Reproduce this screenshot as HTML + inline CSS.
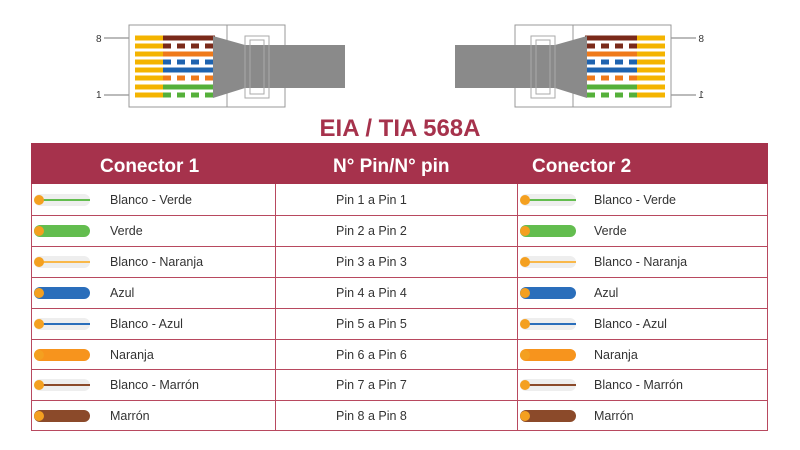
<!DOCTYPE html>
<html><head><meta charset="utf-8"><style>
body{margin:0;width:800px;height:450px;background:#fff;font-family:"Liberation Sans",Arial,sans-serif;position:relative;overflow:hidden}
.t{position:absolute;left:0;width:800px;top:115px;text-align:center;font-weight:bold;font-size:24px;color:#a6324c}
.hd{position:absolute;left:31px;top:143px;width:737px;height:41px;background:#a6324c}
.h{position:absolute;top:156px;color:#fff;font-weight:bold;font-size:19px;white-space:nowrap}
.box{position:absolute;left:31px;top:184px;width:735px;height:246px;border:1px solid #b8495f;border-top:none}
.hl{position:absolute;left:31px;width:737px;height:1px;background:#b8495f}
.vl{position:absolute;top:184px;width:1px;height:247px;background:#b8495f}
.x{position:absolute;font-size:12.5px;color:#333;white-space:nowrap}
.ic{position:absolute}
</style></head><body>
<svg width="800" height="112" style="position:absolute;left:0;top:0">
<defs>
<g id="c">
<text x="96" y="42" font-size="10" fill="#333" font-family="Liberation Sans">8</text>
<line x1="104" y1="38" x2="130" y2="38" stroke="#777"/>
<text x="96" y="98" font-size="10" fill="#333" font-family="Liberation Sans">1</text>
<line x1="104" y1="95" x2="130" y2="95" stroke="#777"/>
<rect x="129" y="25" width="156" height="82" fill="#fff" stroke="#999"/>
<line x1="227" y1="25" x2="227" y2="107" stroke="#999"/>
<g stroke-width="5">
<line x1="135" x2="163" y1="38" y2="38" stroke="#f4b400"/><line x1="163" x2="215" y1="38" y2="38" stroke="#7a2a1a"/>
<line x1="135" x2="163" y1="46" y2="46" stroke="#f4b400"/><line x1="163" x2="215" y1="46" y2="46" stroke="#7a2a1a" stroke-dasharray="8 6"/>
<line x1="135" x2="163" y1="54" y2="54" stroke="#f4b400"/><line x1="163" x2="215" y1="54" y2="54" stroke="#ef7a1a"/>
<line x1="135" x2="163" y1="62" y2="62" stroke="#f4b400"/><line x1="163" x2="215" y1="62" y2="62" stroke="#1e63b0" stroke-dasharray="8 6"/>
<line x1="135" x2="163" y1="70" y2="70" stroke="#f4b400"/><line x1="163" x2="215" y1="70" y2="70" stroke="#1e63b0"/>
<line x1="135" x2="163" y1="78" y2="78" stroke="#f4b400"/><line x1="163" x2="215" y1="78" y2="78" stroke="#ef7a1a" stroke-dasharray="8 6"/>
<line x1="135" x2="163" y1="87" y2="87" stroke="#f4b400"/><line x1="163" x2="215" y1="87" y2="87" stroke="#55b03a"/>
<line x1="135" x2="163" y1="95" y2="95" stroke="#f4b400"/><line x1="163" x2="215" y1="95" y2="95" stroke="#55b03a" stroke-dasharray="8 6"/>
</g>
<path d="M213 36 L245 45 L345 45 L345 88 L245 88 L213 98 Z" fill="#8a8a8a"/>
<rect x="245" y="36" width="24" height="62" fill="none" stroke="#aaa"/>
<rect x="250" y="40" width="14" height="54" fill="none" stroke="#aaa"/>
</g>
</defs>
<use href="#c"/>
<use href="#c" transform="translate(800,0) scale(-1,1)"/>
</svg>
<div class="t">EIA / TIA 568A</div>
<div class="hd"></div>
<div class="h" style="left:100px">Conector 1</div>
<div class="h" style="left:333px">N° Pin/N° pin</div>
<div class="h" style="left:532px">Conector 2</div>
<div class="box"></div>
<div class="vl" style="left:275px"></div>
<div class="vl" style="left:517px"></div>
<div id="rows"></div>
<script>
var d=[["Blanco - Verde","#63bd4f",0],["Verde","#63bd4f",1],["Blanco - Naranja","#f9b84a",0],["Azul","#2a6ebb",1],["Blanco - Azul","#2a6ebb",0],["Naranja","#f7941d",1],["Blanco - Marrón","#8b4a2a",0],["Marrón","#8b4a2a",1]];
function ic(c,s,x,y){return '<svg class="ic" style="left:'+x+'px;top:'+y+'px" width="60" height="14"><rect x="3" y="1" width="56" height="12" rx="6" fill="'+(s?c:'#eee')+'"/>'+(s?'':'<line x1="10" y1="7" x2="59" y2="7" stroke="'+c+'" stroke-width="2"/>')+'<circle cx="8" cy="7" r="5" fill="#f4a020"/></svg>';}
var h='';
d.forEach(function(r,i){var y=184+i*30.9;
if(i>0)h+='<div class="hl" style="top:'+Math.round(y)+'px"></div>';
var cy=Math.round(y+16);
h+=ic(r[1],r[2],31,cy-7)+ic(r[1],r[2],517,cy-7);
h+='<div class="x" style="left:110px;top:'+(cy-7)+'px">'+r[0]+'</div>';
h+='<div class="x" style="left:336px;top:'+(cy-7)+'px">Pin '+(i+1)+' a Pin '+(i+1)+'</div>';
h+='<div class="x" style="left:594px;top:'+(cy-7)+'px">'+r[0]+'</div>';
});
document.getElementById('rows').innerHTML=h;
</script>
</body></html>
